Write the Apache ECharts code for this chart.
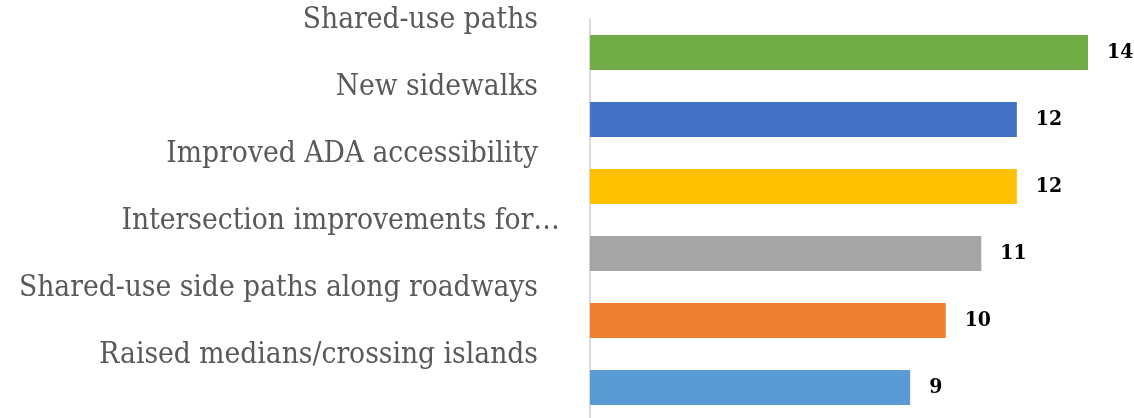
<!DOCTYPE html>
<html>
<head>
<meta charset="utf-8">
<script src="https://cdn.jsdelivr.net/npm/echarts@6/dist/echarts.min.js"></script>
<style>
  html, body { margin: 0; padding: 0; background: #fff; }
  #chart { width: 1134px; height: 418px; }
</style>
</head>
<body>
<div id="chart"></div>
<script>
// categories, top to bottom
var categories = [
    'Shared-use paths',
    'New sidewalks',
    'Improved ADA accessibility',
    'Intersection improvements for\u2026',
    'Shared-use side paths along roadways',
    'Raised medians/crossing islands'
];
var counts = [14, 12, 12, 11, 10, 9];
var barColors = ['#70ad47', '#4472c4', '#ffc000', '#a5a5a5', '#ed7d31', '#5b9bd5'];

var chart = echarts.init(document.getElementById('chart'));

var labelFont = "'DejaVu Serif Condensed', 'DejaVu Serif', serif";

var option = {
    animation: false,
    grid: {
        left: 590,
        top: 19,
        width: 498,
        height: 402,
        containLabel: false,
        outerBoundsMode: 'none'
    },
    xAxis: {
        type: 'value',
        min: 0,
        max: 14,
        show: false
    },
    yAxis: {
        type: 'category',
        inverse: true,
        data: categories.map(function (c, i) {
            // the truncated label hangs past the right edge in the original
            if (i === 3) {
                return {
                    value: c,
                    textStyle: { padding: [0, -22, 0, 0], verticalAlign: 'bottom', lineHeight: 64 }
                };
            }
            return c;
        }),
        axisLine: { show: true, lineStyle: { color: '#d9d9d9', width: 2 } },
        axisTick: { show: false },
        splitLine: { show: false },
        axisLabel: {
            interval: 0,
            hideOverlap: false,
            margin: 52,
            color: '#595959',
            fontFamily: labelFont,
            fontSize: 29.6,
            // labels sit half a band above their bars
            verticalAlign: 'bottom',
            lineHeight: 64
        }
    },
    series: [
        {
            type: 'bar',
            barWidth: 35,
            data: counts.map(function (v, i) {
                return { value: v, itemStyle: { color: barColors[i] } };
            }),
            label: {
                show: true,
                position: 'right',
                distance: 19,
                color: '#000',
                fontFamily: labelFont,
                fontWeight: 'bold',
                fontSize: 21
            }
        }
    ]
};

chart.setOption(option);
</script>
</body>
</html>
